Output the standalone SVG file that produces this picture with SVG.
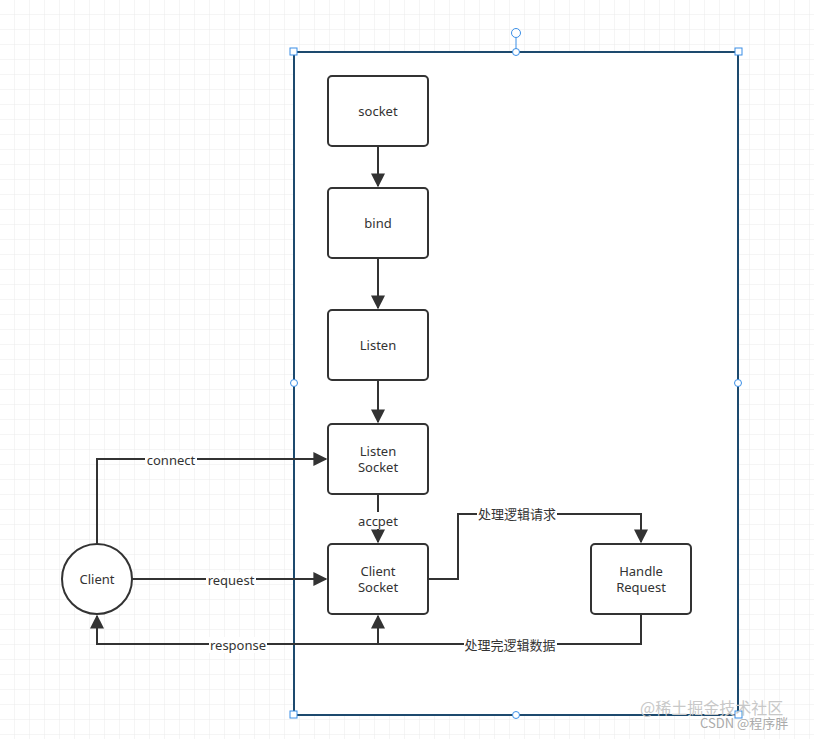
<svg xmlns="http://www.w3.org/2000/svg" width="814" height="739" viewBox="0 0 814 739">
<style>
.n rect{fill:#fff;stroke:#333;stroke-width:2}
.t{font-family:"Noto Sans","Noto Sans CJK SC",sans-serif;font-size:13px;fill:#333;text-anchor:middle}
.c path{fill:none;stroke:#333;stroke-width:2}
.lb{fill:#fff}
.h{fill:#fff;stroke:#3a8ee6;stroke-width:1}
</style>
<defs>
<pattern id="g" width="15" height="15" patternUnits="userSpaceOnUse"><path d="M15 0V15H0" fill="none" stroke="#ebebeb" stroke-width="1"/></pattern>
<marker id="a" viewBox="0 0 10 10" refX="9" refY="5" markerWidth="7" markerHeight="7" orient="auto"><path d="M0 0L10 5L0 10z" fill="#333"/></marker>
</defs>
<rect width="814" height="739" fill="#fff"/>
<rect width="814" height="739" fill="url(#g)"/>
<rect x="294" y="52" width="444" height="663" fill="#fff" stroke="#1d4a6e" stroke-width="2"/>
<line x1="516" y1="38" x2="516" y2="52" stroke="#3a8ee6"/>
<circle class="h" cx="516" cy="33" r="4.5"/>
<g>
<rect class="h" x="290" y="48" width="7" height="7"/><rect class="h" x="735" y="48" width="7" height="7"/>
<rect class="h" x="290" y="711" width="7" height="7"/><rect class="h" x="735" y="711" width="7" height="7"/>
<circle class="h" cx="516" cy="52" r="3.5"/><circle class="h" cx="516" cy="715" r="3.5"/>
<circle class="h" cx="294" cy="383" r="3.5"/><circle class="h" cx="738" cy="383" r="3.5"/>
</g>
<g class="c" id="connectors">
<path d="M378 146V186" marker-end="url(#a)"/>
<path d="M378 258V308" marker-end="url(#a)"/>
<path d="M378 380V422" marker-end="url(#a)"/>
<path d="M378 494V542" marker-end="url(#a)"/>
<path d="M97 544V459H326" marker-end="url(#a)"/>
<path d="M132 579H326" marker-end="url(#a)"/>
<path d="M428 579H458V514H641V542" marker-end="url(#a)"/>
<path d="M641 614V644H97V616" marker-end="url(#a)"/>
<path d="M378 644V616" marker-end="url(#a)"/>
<rect class="lb" x="356" y="512" width="44" height="17"/>
<text class="t" x="378" y="526">accpet</text>
<rect class="lb" x="145" y="452" width="52" height="16"/>
<text class="t" x="171" y="465">connect</text>
<rect class="lb" x="206" y="572" width="50" height="16"/>
<text class="t" x="231" y="585">request</text>
<rect class="lb" x="209" y="637" width="58" height="16"/>
<text class="t" x="238" y="650">response</text>
<rect class="lb" x="477" y="506" width="80" height="16"/>
<text class="t" x="517" y="519">处理逻辑请求</text>
<rect class="lb" x="464" y="637" width="93" height="16"/>
<text class="t" x="510" y="650">处理完逻辑数据</text>
</g>
<g class="n" id="socket"><rect x="328" y="76" width="100" height="70" rx="4"/><text class="t" x="378" y="116">socket</text></g>
<g class="n" id="bind"><rect x="328" y="188" width="100" height="70" rx="4"/><text class="t" x="378" y="228">bind</text></g>
<g class="n" id="listen"><rect x="328" y="310" width="100" height="70" rx="4"/><text class="t" x="378" y="350">Listen</text></g>
<g class="n" id="listensocket"><rect x="328" y="424" width="100" height="70" rx="4"/><text class="t" x="378" y="456">Listen</text><text class="t" x="378" y="472">Socket</text></g>
<g class="n" id="clientsocket"><rect x="328" y="544" width="100" height="70" rx="4"/><text class="t" x="378" y="576">Client</text><text class="t" x="378" y="592">Socket</text></g>
<g class="n" id="handle"><rect x="591" y="544" width="100" height="70" rx="4"/><text class="t" x="641" y="576">Handle</text><text class="t" x="641" y="592">Request</text></g>
<g id="client"><circle cx="97" cy="579" r="35" fill="#fff" stroke="#333" stroke-width="2"/><text class="t" x="97" y="584">Client</text></g>
<text x="640" y="714" font-family="Noto Sans CJK SC,sans-serif" font-size="16" fill="#c8c8c8">@稀土掘金技术社区</text>
<text x="700" y="728" font-family="Noto Sans CJK SC,sans-serif" font-size="13" fill="#aaa">CSDN @程序胖</text>
</svg>
